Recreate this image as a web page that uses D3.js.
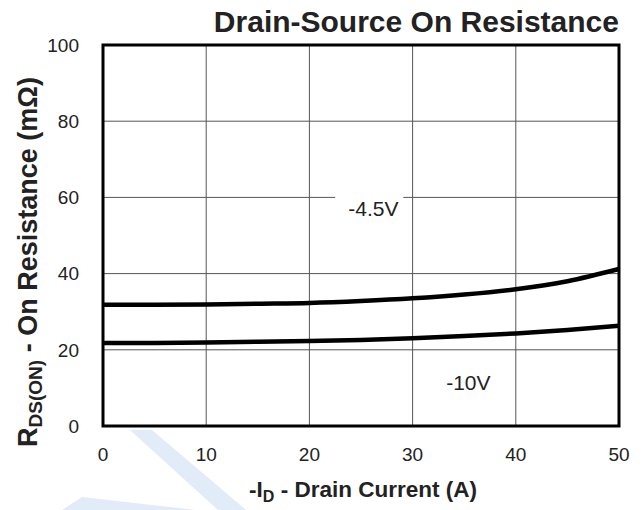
<!DOCTYPE html>
<html>
<head>
<meta charset="utf-8">
<script src="https://cdn.jsdelivr.net/npm/d3@7"></script>
<style>
  body { margin: 0; background: #fff; }
  text { font-family: "Liberation Sans", Arial, sans-serif; }
</style>
</head>
<body>
<div id="chart"></div>
<script>
// data
let current = [0, 5, 10, 15, 20, 25, 30, 35, 40, 45, 50];
let rds45 = [31.8, 31.8, 31.9, 32.1, 32.3, 32.8, 33.5, 34.5, 35.9, 38.0, 41.2];
let rds10 = [21.8, 21.8, 21.9, 22.1, 22.3, 22.6, 23.0, 23.6, 24.3, 25.2, 26.3];
let xTicks = [0, 10, 20, 30, 40, 50];
let yTicks = [0, 20, 40, 60, 80, 100];

// frame
let svg = d3
    .select("#chart")
    .append("svg")
    .attr("width", 644)
    .attr("height", 510),
  margin = { top: 45, left: 103 },
  width = 516,
  height = 381;

// faint watermark stripes behind everything
let wm = svg.append("g").attr("fill", "#e2ebf8");
wm.append("polygon").attr("points", "130,430 152,430 246,510 218,510");
wm.append("polygon").attr("points", "62,510 82,497 196,510");

let xScale = d3.scaleLinear().domain([0, 50]).range([0, width]),
  yScale = d3.scaleLinear().domain([0, 100]).range([height, 0]);

let g = svg
  .append("g")
  .attr("transform", "translate(" + margin.left + "," + margin.top + ")");

g.append("rect")
  .attr("width", width)
  .attr("height", height)
  .attr("fill", "#fff");

// grid lines
g.append("g")
  .selectAll("line")
  .data(xTicks)
  .enter()
  .append("line")
  .attr("x1", (d) => xScale(d))
  .attr("x2", (d) => xScale(d))
  .attr("y1", 0)
  .attr("y2", height)
  .attr("stroke", "#555")
  .attr("stroke-width", 1);

g.append("g")
  .selectAll("line")
  .data(yTicks)
  .enter()
  .append("line")
  .attr("x1", 0)
  .attr("x2", width)
  .attr("y1", (d) => yScale(d))
  .attr("y2", (d) => yScale(d))
  .attr("stroke", "#555")
  .attr("stroke-width", 1);

// tick labels
g.append("g")
  .selectAll("text")
  .data(yTicks)
  .enter()
  .append("text")
  .attr("x", -24)
  .attr("y", (d) => yScale(d))
  .attr("dy", "0.36em")
  .attr("text-anchor", "end")
  .attr("font-size", 19)
  .attr("fill", "#222")
  .text((d) => d);

g.append("g")
  .selectAll("text")
  .data(xTicks)
  .enter()
  .append("text")
  .attr("x", (d) => xScale(d))
  .attr("y", height + 35)
  .attr("text-anchor", "middle")
  .attr("font-size", 19)
  .attr("fill", "#222")
  .text((d) => d);

// curves
let line = d3
  .line()
  .x((d, i) => xScale(current[i]))
  .y((d) => yScale(d))
  .curve(d3.curveMonotoneX);

[rds45, rds10].forEach(function (s) {
  g.append("path")
    .datum(s)
    .attr("d", line)
    .attr("fill", "none")
    .attr("stroke", "#000")
    .attr("stroke-width", 4.5);
});

// curve labels
g.append("rect")
  .attr("x", xScale(22.5))
  .attr("y", yScale(60) - 2)
  .attr("width", xScale(6.6))
  .attr("height", 4)
  .attr("fill", "#fff");

g.append("text")
  .attr("x", xScale(26.2))
  .attr("y", yScale(55))
  .attr("text-anchor", "middle")
  .attr("font-size", 21)
  .attr("fill", "#222")
  .text("-4.5V");

g.append("text")
  .attr("x", xScale(35.4))
  .attr("y", yScale(9.5))
  .attr("text-anchor", "middle")
  .attr("font-size", 21)
  .attr("fill", "#222")
  .text("-10V");

// border
g.append("rect")
  .attr("width", width)
  .attr("height", height)
  .attr("fill", "none")
  .attr("stroke", "#000")
  .attr("stroke-width", 3);

// title
svg
  .append("text")
  .attr("x", margin.left + width)
  .attr("y", 32)
  .attr("text-anchor", "end")
  .attr("font-size", 30)
  .attr("font-weight", "bold")
  .attr("fill", "#222")
  .text("Drain-Source On Resistance");

// x axis label
let xl = svg
  .append("text")
  .attr("x", 363)
  .attr("y", 497)
  .attr("text-anchor", "middle")
  .attr("font-size", 22.5)
  .attr("font-weight", "bold")
  .attr("fill", "#222");
xl.append("tspan").text("-I");
xl.append("tspan").attr("font-size", 16).attr("dy", 5).text("D");
xl.append("tspan").attr("dy", -5).text(" - Drain Current (A)");

// y axis label
let yl = svg
  .append("text")
  .attr("transform", "translate(37," + 262 + ") rotate(-90)")
  .attr("text-anchor", "middle")
  .attr("font-size", 27)
  .attr("font-weight", "bold")
  .attr("fill", "#222");
yl.append("tspan").text("R");
yl.append("tspan").attr("font-size", 19).attr("dy", 5).text("DS(ON)");
yl.append("tspan").attr("dy", -5).text(" - On Resistance (mΩ)");
</script>
</body>
</html>
